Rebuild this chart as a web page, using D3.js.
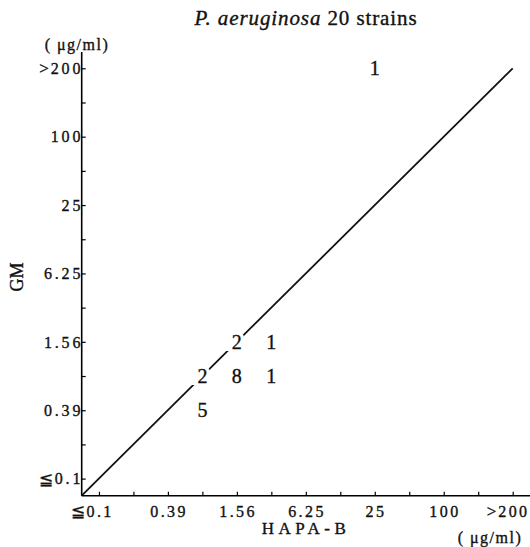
<!DOCTYPE html>
<html>
<head>
<meta charset="utf-8">
<script src="https://cdn.jsdelivr.net/npm/d3@7"></script>
<style>
  body { margin: 0; background: #fff; }
</style>
</head>
<body>
<div id="chart"></div>
<script>
// MIC levels (µg/ml), log2 steps, same on both axes
const levels = ["0.1", "0.2", "0.39", "0.78", "1.56", "3.13", "6.25", "12.5", "25", "50", "100", "200", ">200"];
const tickLabels = ["≦0.1", "0.39", "1.56", "6.25", "25", "100", ">200"];

// number of strains in each cell
const hapaB = ["25", "1.56", "3.13", "0.78", "1.56", "3.13", "0.78"];
const gm = [">200", "1.56", "1.56", "0.78", "0.78", "0.78", "0.39"];
const strains = [1, 2, 1, 2, 8, 1, 5];

const width = 530, height = 547;
const x0 = 81.7, x1 = 512.7;   // origin, >200 tick
const y0 = 495.7, y1 = 68.3;
const serif = "'Liberation Serif', 'Times New Roman', serif";

const svg = d3.select("#chart").append("svg")
    .attr("width", width)
    .attr("height", height)
    .style("font-family", serif);

// index scales, origin sits half a step below the first level
const x = d3.scaleLinear().domain([-0.5, levels.length - 1]).range([x0, x1]);
const y = d3.scaleLinear().domain([-0.5, levels.length - 1]).range([y0, y1]);
const idx = v => levels.indexOf(v);

// helper for the slightly heavy scanned look
const ink = sel => sel
    .style("font-family", serif)
    .style("fill", "#111")
    .style("stroke", "#111")
    .style("stroke-width", "0.35px");

// diagonal line of equal MIC
svg.append("line")
    .attr("x1", x(-0.5)).attr("y1", y(-0.5))
    .attr("x2", x(levels.length - 1)).attr("y2", y(levels.length - 1))
    .attr("stroke", "#111")
    .attr("stroke-width", 1.8);

// x axis
const xAxis = svg.append("g")
    .attr("transform", `translate(0,${y0})`)
    .call(d3.axisBottom(x)
        .tickValues(d3.range(levels.length))
        .tickSize(-4)
        .tickFormat(""));
xAxis.select(".domain").attr("d", `M${x0},0H${width}`).attr("stroke-width", 1.6);
xAxis.selectAll(".tick line").attr("stroke-width", 1.2);

// y axis
const yAxis = svg.append("g")
    .attr("transform", `translate(${x0},0)`)
    .call(d3.axisLeft(y)
        .tickValues(d3.range(levels.length))
        .tickSize(-4)
        .tickFormat(""));
yAxis.select(".domain").attr("d", `M0,${y0}V52`).attr("stroke-width", 1.6);
yAxis.selectAll(".tick line").attr("stroke-width", 1.2);

// tick labels on every other level
const labelled = tickLabels.map((t, i) => ({ t, i: i * 2 }));

// x labels: number centred on tick, prefix sign hangs to the left
labelled.forEach(d => {
    const m = d.t.match(/^([^0-9]*)(.*)$/);
    const num = svg.append("text")
        .attr("x", x(d.i) + 1.2)
        .attr("y", y0 + 21)
        .attr("text-anchor", "middle")
        .style("font-size", "16px")
        .style("letter-spacing", "2.4px")
        .text(m[2])
        .call(ink);
    if (m[1]) {
        const b = num.node().getBBox();
        svg.append("text")
            .attr("x", b.x - 2)
            .attr("y", y0 + 21)
            .attr("text-anchor", "end")
            .style("font-size", "17px")
            .text(m[1])
            .call(ink);
    }
});

// y labels, right aligned against the axis, prefix sign a bit wider
labelled.forEach(d => {
    const m = d.t.match(/^([^0-9]*)(.*)$/);
    const num = svg.append("text")
        .attr("x", x0 + 1.5)
        .attr("y", y(d.i))
        .attr("dy", "0.36em")
        .attr("text-anchor", "end")
        .style("font-size", "16px")
        .style("letter-spacing", "2.8px")
        .text(m[2])
        .call(ink);
    if (m[1]) {
        const b = num.node().getBBox();
        svg.append("text")
            .attr("x", b.x - 2)
            .attr("y", y(d.i))
            .attr("dy", "0.36em")
            .attr("text-anchor", "end")
            .style("font-size", "17px")
            .text(m[1])
            .call(ink);
    }
});

// strain counts, white halo breaks the diagonal
const cells = svg.selectAll(".count")
    .data(strains)
    .join("g")
    .attr("class", "count")
    .attr("transform", (d, i) => `translate(${x(idx(hapaB[i]))},${y(idx(gm[i]))})`);
cells.append("text")
    .attr("dy", "0.35em")
    .attr("text-anchor", "middle")
    .style("font-size", "20px")
    .style("fill", "#fff")
    .style("stroke", "#fff")
    .style("stroke-width", "7px")
    .text(d => d);
cells.append("text")
    .attr("dy", "0.35em")
    .attr("text-anchor", "middle")
    .style("font-size", "20px")
    .text(d => d)
    .call(ink);

// title
const title = svg.append("text")
    .attr("x", 306)
    .attr("y", 25)
    .attr("text-anchor", "middle")
    .style("font-size", "21px")
    .style("letter-spacing", "0.9px")
    .call(ink);
title.append("tspan").style("font-style", "italic").text("P. aeruginosa");
title.append("tspan").text(" 20 strains");

// units
svg.append("text")
    .attr("x", 77).attr("y", 50)
    .attr("text-anchor", "middle")
    .style("font-size", "16px")
    .style("letter-spacing", "1.5px")
    .text("( μg/ml)")
    .call(ink);
svg.append("text")
    .attr("x", 490).attr("y", 543)
    .attr("text-anchor", "middle")
    .style("font-size", "16px")
    .style("letter-spacing", "1.5px")
    .text("( μg/ml)")
    .call(ink);

// axis titles
svg.append("text")
    .attr("x", 306).attr("y", 534)
    .attr("text-anchor", "middle")
    .style("font-size", "17px")
    .style("letter-spacing", "4.5px")
    .text("HAPA-B")
    .call(ink);
svg.append("text")
    .attr("transform", "translate(23,277) rotate(-90)")
    .attr("text-anchor", "middle")
    .style("font-size", "18px")
    .text("GM")
    .call(ink);
</script>
</body>
</html>
